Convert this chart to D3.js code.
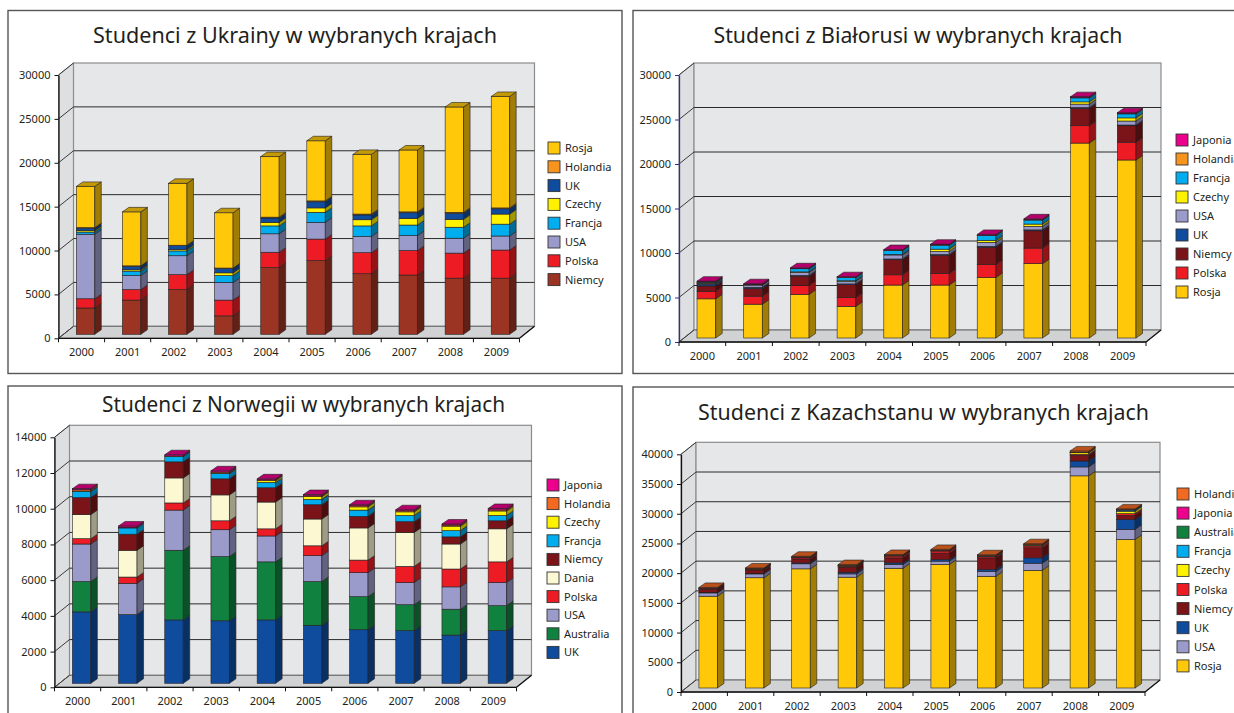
<!DOCTYPE html>
<html>
<head>
<meta charset="utf-8">
<script src="https://cdn.jsdelivr.net/npm/d3@7"></script>
<style>
  body { margin: 0; background: #fff; }
  text { font-family: "Noto Sans", "Open Sans", sans-serif; fill: #231f20; }
</style>
</head>
<body>
<svg id="chart" width="1234" height="713"></svg>
<script>
// ---------------------------------- data ------------------------------------
const years = ["2000", "2001", "2002", "2003", "2004", "2005", "2006", "2007", "2008", "2009"];

// Ukraina (stack order bottom -> top)
const ukraineTitle = "Studenci z Ukrainy w wybranych krajach";
const ukraineSeries = ["Niemcy", "Polska", "USA", "Francja", "Czechy", "UK", "Holandia", "Rosja"];
const ukraineValues = [
    [3000, 3900, 5100, 2100, 7600, 8400, 6900, 6750, 6400, 6400],
    [1050, 1200, 1700, 1800, 1750, 2450, 2400, 2800, 2850, 3200],
    [7350, 1600, 2150, 2000, 2100, 1900, 1850, 1700, 1700, 1600],
    [250, 500, 550, 800, 900, 1150, 1200, 1200, 1250, 1350],
    [150, 150, 150, 300, 400, 500, 700, 750, 900, 1150],
    [300, 400, 450, 500, 500, 700, 550, 650, 700, 600],
    [50, 50, 50, 50, 100, 100, 100, 100, 100, 100],
    [4700, 6150, 7050, 6300, 6900, 6850, 6800, 7050, 12000, 12700]
];
const ukraineTicks = [0, 5000, 10000, 15000, 20000, 25000, 30000];

// Białoruś
const belarusTitle = "Studenci z Białorusi w wybranych krajach";
const belarusSeries = ["Rosja", "Polska", "Niemcy", "UK", "USA", "Czechy", "Francja", "Holandia", "Japonia"];
const belarusValues = [
    [4400, 3800, 4900, 3550, 5950, 5950, 6800, 8350, 21900, 20000],
    [850, 900, 1000, 1000, 1150, 1300, 1450, 1750, 1950, 2000],
    [600, 850, 1050, 1450, 1700, 2050, 1950, 1950, 1950, 1850],
    [200, 150, 80, 80, 80, 80, 100, 100, 80, 80],
    [100, 250, 350, 300, 450, 350, 450, 400, 400, 450],
    [30, 20, 50, 50, 50, 250, 200, 250, 250, 350],
    [100, 50, 350, 350, 450, 450, 550, 450, 450, 450],
    [30, 20, 30, 30, 30, 30, 40, 40, 40, 40],
    [80, 60, 80, 80, 80, 80, 100, 100, 100, 100]
];
const belarusTicks = [0, 5000, 10000, 15000, 20000, 25000, 30000];

// Norwegia
const norwayTitle = "Studenci z Norwegii w wybranych krajach";
const norwaySeries = ["UK", "Australia", "USA", "Polska", "Dania", "Niemcy", "Francja", "Czechy", "Holandia", "Japonia"];
const norwayValues = [
    [4000, 3850, 3550, 3500, 3550, 3250, 3000, 2950, 2700, 2950],
    [1700, 0, 3900, 3600, 3250, 2450, 1850, 1450, 1450, 1400],
    [2100, 1750, 2250, 1500, 1450, 1450, 1350, 1250, 1250, 1300],
    [300, 350, 400, 500, 400, 550, 700, 900, 1000, 1150],
    [1350, 1500, 1400, 1450, 1500, 1500, 1800, 1900, 1400, 1850],
    [950, 900, 900, 900, 800, 800, 650, 600, 400, 450],
    [350, 350, 300, 300, 300, 300, 350, 350, 350, 300],
    [20, 0, 0, 20, 100, 150, 180, 200, 250, 250],
    [80, 30, 30, 60, 40, 50, 60, 60, 60, 60],
    [50, 80, 70, 70, 60, 70, 60, 60, 60, 80]
];
const norwayTicks = [0, 2000, 4000, 6000, 8000, 10000, 12000, 14000];

// Kazachstan
const kazakhTitle = "Studenci z Kazachstanu w wybranych krajach";
const kazakhSeries = ["Rosja", "USA", "UK", "Niemcy", "Polska", "Czechy", "Francja", "Australia", "Japonia", "Holandia"];
const kazakhValues = [
    [15450, 18550, 20050, 18650, 20150, 20800, 18800, 19800, 35700, 25000],
    [550, 650, 850, 550, 650, 550, 800, 1200, 1500, 1700],
    [100, 100, 150, 250, 250, 250, 350, 900, 1000, 1650],
    [500, 550, 650, 900, 850, 1100, 1950, 1700, 950, 700],
    [100, 150, 200, 150, 300, 350, 250, 300, 200, 300],
    [20, 30, 40, 40, 40, 40, 40, 150, 250, 400],
    [20, 30, 40, 40, 40, 40, 40, 40, 50, 200],
    [20, 20, 20, 20, 20, 20, 20, 20, 20, 20],
    [20, 20, 20, 20, 20, 20, 20, 20, 20, 20],
    [150, 100, 150, 150, 150, 150, 150, 150, 200, 150]
];
const kazakhTicks = [0, 5000, 10000, 15000, 20000, 25000, 30000, 35000, 40000];

// -------------------------------- colours -----------------------------------
const COLORS = {
    Rosja: "#ffc90a",
    Holandia: "#f26a22",
    UK: "#0f4c9e",
    Czechy: "#fff200",
    Francja: "#00aeef",
    USA: "#9a9acb",
    Polska: "#ed1c24",
    Niemcy: "#7b1418",
    Japonia: "#ec008c",
    Dania: "#fcf8d2",
    Australia: "#11813f"
};

const WALL_DX = 15, WALL_DY = -12;       // depth of the walls
const BAR_DX = 6.5, BAR_DY = -4.5;       // depth of a bar
const BAR_SHIFT_X = 4, BAR_SHIFT_Y = -4; // bar front face sits behind the front edge

const svg = d3.select("#chart");

function drawPanel(p) {
    const g = svg.append("g");
    const colors = Object.assign({}, COLORS, p.colorOverride || {});

    // frame
    g.append("rect")
        .attr("x", p.frame[0]).attr("y", p.frame[1])
        .attr("width", p.frame[2]).attr("height", p.frame[3])
        .attr("fill", "#fff").attr("stroke", "#555").attr("stroke-width", 1.4);

    // title
    g.append("text")
        .attr("x", p.titleX).attr("y", p.titleY)
        .attr("text-anchor", "middle")
        .attr("font-size", 21)
        .attr("textLength", p.titleW)
        .attr("lengthAdjust", "spacingAndGlyphs")
        .text(p.title);

    const ax = p.axisX, y0 = p.y0;
    const x = d3.scaleBand().domain(years).range([ax, ax + p.plotW]);
    const maxV = d3.max(p.ticks);
    const y = d3.scaleLinear().domain([0, maxV]).range([y0, p.yTop]);
    const xr = ax + p.plotW;

    // ------------------------------ walls -----------------------------------
    g.append("polygon")
        .attr("points", [[ax, y0], [ax, y(maxV)], [ax + WALL_DX, y(maxV) + WALL_DY], [ax + WALL_DX, y0 + WALL_DY]].join(" "))
        .attr("fill", "#dedfe1").attr("stroke", "#8c8c8c").attr("stroke-width", 1);
    g.append("rect")
        .attr("x", ax + WALL_DX).attr("y", y(maxV) + WALL_DY)
        .attr("width", p.plotW).attr("height", y0 - y(maxV))
        .attr("fill", "#e6e7e8").attr("stroke", "#8c8c8c").attr("stroke-width", 1.2);
    g.append("polygon")
        .attr("points", [[ax, y0], [xr, y0], [xr + WALL_DX, y0 + WALL_DY], [ax + WALL_DX, y0 + WALL_DY]].join(" "))
        .attr("fill", "#d1d2d4").attr("stroke", "#666").attr("stroke-width", 1);

    // gridlines on back wall and side wall
    const inner = p.ticks.filter(t => t > 0 && t < maxV);
    g.selectAll(".grid").data(inner).enter().append("line")
        .attr("x1", ax + WALL_DX).attr("x2", xr + WALL_DX)
        .attr("y1", d => y(d) + WALL_DY).attr("y2", d => y(d) + WALL_DY)
        .attr("stroke", "#2b2b2b").attr("stroke-width", 1);
    g.selectAll(".sgrid").data(p.ticks).enter().append("line")
        .attr("x1", ax).attr("x2", ax + WALL_DX)
        .attr("y1", d => y(d)).attr("y2", d => y(d) + WALL_DY)
        .attr("stroke", "#3a3a3a").attr("stroke-width", 1);

    // ------------------------------ axes ------------------------------------
    const yAxis = g.append("g")
        .attr("transform", `translate(${ax},0)`)
        .call(d3.axisLeft(y).tickValues(p.ticks).tickFormat(d3.format("d")).tickSize(4).tickSizeOuter(0).tickPadding(4));
    yAxis.select(".domain").attr("stroke", p.axisColor).attr("stroke-width", 1.3);
    yAxis.selectAll(".tick line").attr("stroke", p.axisColor);
    yAxis.selectAll("text").attr("font-size", 11).attr("font-family", "Noto Sans").attr("fill", "#231f20");

    g.append("line")
        .attr("x1", ax).attr("x2", xr).attr("y1", y0).attr("y2", y0)
        .attr("stroke", "#111").attr("stroke-width", 1.3);
    g.append("line")
        .attr("x1", xr).attr("x2", xr + WALL_DX).attr("y1", y0).attr("y2", y0 + WALL_DY)
        .attr("stroke", "#111").attr("stroke-width", 1.2);
    g.selectAll(".xtick").data(d3.range(years.length + 1)).enter().append("line")
        .attr("x1", i => ax + i * x.step()).attr("x2", i => ax + i * x.step())
        .attr("y1", y0).attr("y2", y0 + 4)
        .attr("stroke", "#111").attr("stroke-width", 1);
    g.selectAll(".xlabel").data(years).enter().append("text")
        .attr("x", d => x(d) + x.bandwidth() / 2)
        .attr("y", y0 + 18)
        .attr("text-anchor", "middle")
        .attr("font-size", 11)
        .text(d => d);

    // ------------------------------ bars ------------------------------------
    const bw = x.bandwidth() * 0.4;
    const yb = v => y(v) + BAR_SHIFT_Y;
    years.forEach((yr, j) => {
        const bx = x(yr) + (x.bandwidth() - bw) / 2 + BAR_SHIFT_X;
        let acc = 0;
        let topName = null;
        p.series.forEach((name, s) => {
            const v = p.values[s][j];
            if (!v) return;
            const v0 = acc, v1 = acc + v;
            acc = v1;
            topName = name;
            const c = d3.color(colors[name]);
            g.append("rect")
                .attr("x", bx).attr("y", yb(v1))
                .attr("width", bw).attr("height", yb(v0) - yb(v1))
                .attr("fill", c.formatHex())
                .attr("stroke", "#231f20").attr("stroke-width", 0.6);
            g.append("polygon")
                .attr("points", [[bx + bw, yb(v0)], [bx + bw + BAR_DX, yb(v0) + BAR_DY],
                                 [bx + bw + BAR_DX, yb(v1) + BAR_DY], [bx + bw, yb(v1)]].join(" "))
                .attr("fill", c.darker(1.3).formatHex())
                .attr("stroke", "#231f20").attr("stroke-width", 0.6);
        });
        const tc = d3.color(colors[topName]);
        g.append("polygon")
            .attr("points", [[bx, yb(acc)], [bx + BAR_DX, yb(acc) + BAR_DY],
                             [bx + bw + BAR_DX, yb(acc) + BAR_DY], [bx + bw, yb(acc)]].join(" "))
            .attr("fill", tc.darker(0.75).formatHex())
            .attr("stroke", "#231f20").attr("stroke-width", 0.6);
    });

    // ------------------------------ legend ----------------------------------
    const legendItems = p.series.slice().reverse();
    const lg = g.append("g");
    legendItems.forEach((name, i) => {
        const ly = p.legendY + i * p.legendStep;
        lg.append("rect")
            .attr("x", p.legendX).attr("y", ly - 6)
            .attr("width", 12).attr("height", 12)
            .attr("fill", colors[name])
            .attr("stroke", "#333").attr("stroke-width", 0.9);
        lg.append("text")
            .attr("x", p.legendX + 17).attr("y", ly + 4)
            .attr("font-size", 11)
            .text(name);
    });
}

drawPanel({
    title: ukraineTitle, series: ukraineSeries, values: ukraineValues, ticks: ukraineTicks,
    frame: [8, 10.5, 614, 363], titleX: 295, titleY: 43, titleW: 404,
    axisX: 58.5, y0: 338.3, yTop: 75, plotW: 461, axisColor: "#111",
    legendX: 548, legendY: 148, legendStep: 18.8,
    colorOverride: {Niemcy: "#9b3423", Holandia: "#f7941d"}
});

drawPanel({
    title: belarusTitle, series: belarusSeries, values: belarusValues, ticks: belarusTicks,
    frame: [633, 10.5, 660, 363], titleX: 918, titleY: 43, titleW: 409,
    axisX: 679, y0: 342, yTop: 75, plotW: 467, axisColor: "#2e3192",
    legendX: 1176, legendY: 140, legendStep: 19,
    colorOverride: {Holandia: "#f7941d"}
});

drawPanel({
    title: norwayTitle, series: norwaySeries, values: norwayValues, ticks: norwayTicks,
    frame: [8, 386, 614, 360], titleX: 303.5, titleY: 412, titleW: 403,
    axisX: 54.5, y0: 687.3, yTop: 437.3, plotW: 462, axisColor: "#111",
    legendX: 547, legendY: 485, legendStep: 18.6
});

drawPanel({
    title: kazakhTitle, series: kazakhSeries, values: kazakhValues, ticks: kazakhTicks,
    frame: [633, 387, 660, 360], titleX: 923.5, titleY: 420, titleW: 451,
    axisX: 681, y0: 692, yTop: 454.3, plotW: 464, axisColor: "#111",
    legendX: 1177, legendY: 494, legendStep: 19.1
});
</script>
</body>
</html>
